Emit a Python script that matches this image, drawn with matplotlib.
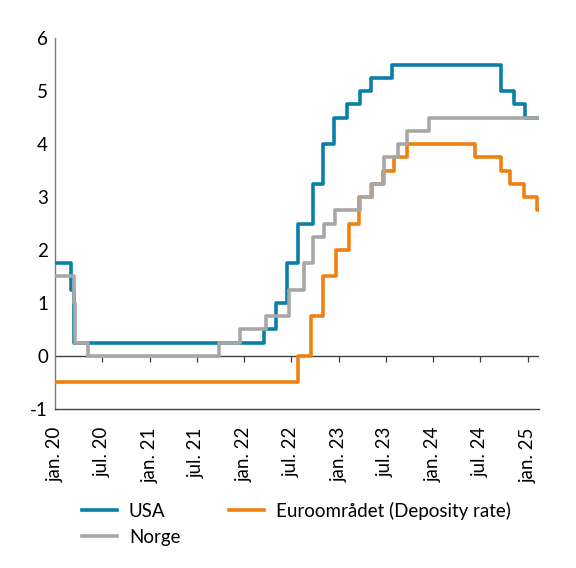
import matplotlib
matplotlib.use("Agg")
import matplotlib.pyplot as plt
import pandas as pd

plt.rcParams['font.family'] = ['Lato', 'DejaVu Sans']
plt.rcParams['axes.unicode_minus'] = False

END = "2025-02-13"

usa_dates = ["2020-01-01", "2020-03-04", "2020-03-16", "2022-03-17", "2022-05-05",
             "2022-06-16", "2022-07-28", "2022-09-22", "2022-11-03", "2022-12-15",
             "2023-02-02", "2023-03-23", "2023-05-04", "2023-07-27", "2024-09-19",
             "2024-11-08", "2024-12-19", END]
usa_vals = [1.75, 1.25, 0.25, 0.5, 1.0, 1.75, 2.5, 3.25, 4.0, 4.5,
            4.75, 5.0, 5.25, 5.5, 5.0, 4.75, 4.5, 4.5]

nor_dates = ["2020-01-01", "2020-03-13", "2020-03-20", "2020-05-08", "2021-09-24",
             "2021-12-17", "2022-03-25", "2022-06-24", "2022-08-19", "2022-09-23",
             "2022-11-04", "2022-12-16", "2023-03-24", "2023-05-05", "2023-06-23",
             "2023-08-18", "2023-09-22", "2023-12-15", END]
nor_vals = [1.5, 1.0, 0.25, 0.0, 0.25, 0.5, 0.75, 1.25, 1.75, 2.25,
            2.5, 2.75, 3.0, 3.25, 3.75, 4.0, 4.25, 4.5, 4.5]

eur_dates = ["2020-01-01", "2022-07-27", "2022-09-14", "2022-11-02", "2022-12-21",
             "2023-02-08", "2023-03-22", "2023-05-10", "2023-06-21", "2023-08-02",
             "2023-09-20", "2024-06-12", "2024-09-18", "2024-10-23", "2024-12-18",
             "2025-02-05", END]
eur_vals = [-0.5, 0.0, 0.75, 1.5, 2.0, 2.5, 3.0, 3.25, 3.5, 3.75,
            4.0, 3.75, 3.5, 3.25, 3.0, 2.75, 2.75]

tick_dates = pd.date_range("2020-01-01", "2025-01-01", freq="6MS")
tick_labels = [("jan. " if d.month == 1 else "jul. ") + d.strftime("%y") for d in tick_dates]
y_ticks = [-1, 0, 1, 2, 3, 4, 5, 6]

BLUE = "#0b7fa8"
GRAY = "#a7a7a7"
ORANGE = "#f08011"
AX = "#404040"
FS = 13.5

fig = plt.figure(figsize=(5.76, 5.68), dpi=100)
ax = fig.add_axes([0.0955, 0.280, 0.8405, 0.653])

lw = 2.6
ax.plot(pd.to_datetime(usa_dates), usa_vals, drawstyle="steps-post", color=BLUE, lw=lw,
        label="USA", zorder=3)
ax.plot(pd.to_datetime(eur_dates), eur_vals, drawstyle="steps-post", color=ORANGE, lw=lw,
        label="Euroområdet (Deposity rate)", zorder=4)
ax.plot(pd.to_datetime(nor_dates), nor_vals, drawstyle="steps-post", color=GRAY, lw=lw,
        label="Norge", zorder=5)

ax.set_xlim(pd.Timestamp("2020-01-01"), pd.Timestamp(END))
ax.set_ylim(-1, 6)
ax.set_yticks(y_ticks)
ax.set_yticklabels([str(v) for v in y_ticks])
ax.set_xticks(tick_dates)
ax.set_xticklabels(tick_labels, rotation=90, va="top", ha="center")
ax.tick_params(axis="x", length=0, pad=13, labelsize=FS, colors="black")
ax.tick_params(axis="y", length=0, pad=5, labelsize=FS, colors="black")

for s in ["top", "right"]:
    ax.spines[s].set_visible(False)
ax.spines["left"].set_color("#7a7a7a")
ax.spines["left"].set_linewidth(1.0)
ax.spines["bottom"].set_color(AX)
ax.spines["bottom"].set_linewidth(1.0)

ax.axhline(0, color=AX, lw=1.0, zorder=2)
ax.plot(tick_dates[1:], [0] * (len(tick_dates) - 1), ls="", marker=3, markersize=4,
        markeredgewidth=0.9, color=AX, zorder=2, clip_on=False)

h, l = ax.get_legend_handles_labels()
order = [0, 2, 1]
fig.legend([h[i] for i in order], [l[i] for i in order], loc="upper left",
           bbox_to_anchor=(0.142, 0.117), ncol=2, frameon=False, fontsize=FS,
           borderaxespad=0, borderpad=0, handlelength=1.87, handletextpad=0.64,
           columnspacing=2.6, labelspacing=0.5)

fig.savefig("out.png", dpi=100)
